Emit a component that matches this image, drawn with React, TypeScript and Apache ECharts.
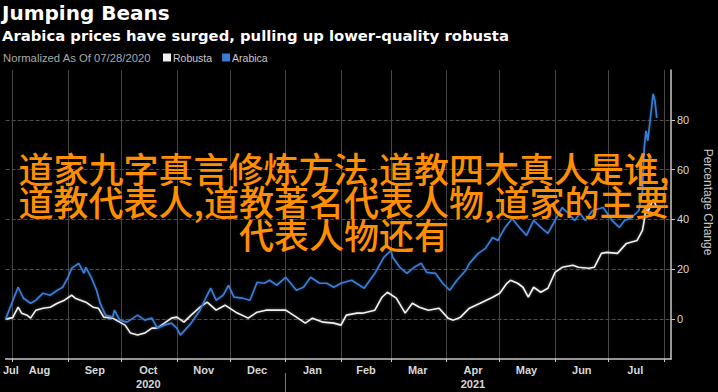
import React, { useEffect, useRef } from "react";
import * as echarts from "echarts";

// ---- data ----
const robustaDates = [
  "2020-07-28", "2020-08-01", "2020-08-04", "2020-08-06", "2020-08-09", "2020-08-11", "2020-08-14",
  "2020-08-18", "2020-08-22", "2020-08-26", "2020-08-30", "2020-09-03", "2020-09-05", "2020-09-08",
  "2020-09-11", "2020-09-15", "2020-09-18", "2020-09-21", "2020-09-26", "2020-09-30", "2020-10-03",
  "2020-10-06", "2020-10-10", "2020-10-14", "2020-10-18", "2020-10-21", "2020-10-25", "2020-10-29",
  "2020-11-01", "2020-11-05", "2020-11-09", "2020-11-14", "2020-11-18", "2020-11-23", "2020-11-28",
  "2020-12-04", "2020-12-11", "2020-12-16", "2020-12-21", "2021-01-01", "2021-01-07", "2021-01-12",
  "2021-01-16", "2021-01-22", "2021-01-28", "2021-02-01", "2021-02-04", "2021-02-10", "2021-02-13",
  "2021-02-20", "2021-02-24", "2021-02-27", "2021-03-04", "2021-03-09", "2021-03-13", "2021-03-17",
  "2021-03-22", "2021-03-28", "2021-04-02", "2021-04-05", "2021-04-09", "2021-04-14", "2021-04-20",
  "2021-04-27", "2021-05-01", "2021-05-05", "2021-05-07", "2021-05-11", "2021-05-14", "2021-05-17",
  "2021-05-20", "2021-05-24", "2021-05-28", "2021-06-01", "2021-06-05", "2021-06-11", "2021-06-14",
  "2021-06-20", "2021-06-23", "2021-06-27", "2021-06-30", "2021-07-06", "2021-07-11", "2021-07-17",
  "2021-07-20", "2021-07-21", "2021-07-22", "2021-07-23", "2021-07-26", "2021-07-28",
];
const robustaValues = [
  0, 0.6, 4.8, 2.4, 1.6, 0.4, 3.6,
  4.4, 4.8, 6.4, 7.6, 9.6, 8.4, 7.6,
  6.8, 4.8, 4.4, 0.8, 0.4, -1.2, -2.4,
  -5.6, -6.4, -5.6, -3.6, -3.6, -1.6, 0.4,
  0.8, -1.2, 1.6, 4.8, 6.8, 3.6, 5.6,
  2.8, 0.4, 2.8, 3.6, 3.6, 0.8, -1.6,
  0.4, -1.2, -1.6, -2.4, 1.6, 2.4, 2.4,
  3.6, 8.8, 10.8, 8.4, 2.4, 6.4, 4.8,
  3.6, 4.4, 0.4, -0.4, 0.8, 4.4, 6.4,
  8.8, 10.4, 14.4, 15.6, 14.4, 12.8, 8.8,
  12.8, 10.8, 12.4, 18.8, 20.8, 21.6, 20.8,
  20.4, 20.8, 26.4, 26.8, 26.4, 30.4, 31.6,
  35.6, 39.6, 44.8, 43, 48, 45,
];

const arabicaDates = [
  "2020-07-28", "2020-08-04", "2020-08-07", "2020-08-11", "2020-08-14", "2020-08-18", "2020-08-22",
  "2020-08-26", "2020-08-29", "2020-09-01", "2020-09-03", "2020-09-07", "2020-09-10", "2020-09-11",
  "2020-09-14", "2020-09-17", "2020-09-19", "2020-09-22", "2020-09-26", "2020-09-27", "2020-09-30",
  "2020-10-04", "2020-10-10", "2020-10-14", "2020-10-18", "2020-10-21", "2020-10-25", "2020-10-29",
  "2020-11-01", "2020-11-03", "2020-11-09", "2020-11-14", "2020-11-18", "2020-11-20", "2020-11-23",
  "2020-11-27", "2020-11-30", "2020-12-03", "2020-12-08", "2020-12-12", "2020-12-16", "2020-12-20",
  "2020-12-23", "2020-12-27", "2021-01-01", "2021-01-07", "2021-01-11", "2021-01-15", "2021-01-20",
  "2021-01-24", "2021-01-28", "2021-02-01", "2021-02-07", "2021-02-14", "2021-02-20", "2021-02-25",
  "2021-03-01", "2021-03-02", "2021-03-06", "2021-03-10", "2021-03-14", "2021-03-18", "2021-03-21",
  "2021-03-26", "2021-03-30", "2021-04-03", "2021-04-07", "2021-04-12", "2021-04-14", "2021-04-19",
  "2021-04-23", "2021-04-27", "2021-04-30", "2021-05-04", "2021-05-08", "2021-05-12", "2021-05-16",
  "2021-05-20", "2021-05-24", "2021-05-28", "2021-06-01", "2021-06-05", "2021-06-08", "2021-06-12",
  "2021-06-15", "2021-06-18", "2021-06-22", "2021-06-28", "2021-07-03", "2021-07-07", "2021-07-10",
  "2021-07-14", "2021-07-18", "2021-07-20", "2021-07-21", "2021-07-22", "2021-07-23", "2021-07-26",
  "2021-07-27", "2021-07-28",
];
const arabicaValues = [
  0, 12.8, 8.4, 6.4, 7.6, 10.4, 9.6,
  11.6, 12.8, 16.8, 20.4, 22.4, 18.4, 20.8,
  16.8, 11.6, 6.4, 1.6, 0.8, 3.6, -0.4,
  -1.2, 1.6, -0.4, 0.4, -3.6, -2.4, -1.6,
  -3.6, -6.4, -1.6, 3.6, 9.6, 12.4, 7.6,
  9.6, 13.6, 8.8, 8.4, 7.6, 14.8, 14.4,
  15.6, 13.6, 16.8, 11.6, 12.8, 16.8, 14.4,
  14.4, 12.8, 14.4, 15.6, 12.4, 18.4, 24.8,
  27.6, 24.8, 20.8, 18.4, 20.8, 22.4, 18.8,
  18.4, 14.4, 11.6, 15.6, 19.6, 22.4, 26.4,
  28.4, 32.8, 31.6, 36.8, 40.4, 36.8, 33.6,
  39.6, 36.8, 34.4, 39.6, 44.8, 42.8, 39.6,
  42.4, 39.6, 43.6, 44.8, 39.6, 36.8, 39.6,
  40.8, 43.6, 51.6, 68.8, 75.6, 71.6, 90.4,
  87.6, 80.8,
];

const monthStarts = [
  "2020-08-01", "2020-09-01", "2020-10-01", "2020-11-01", "2020-12-01", "2021-01-01", "2021-02-01",
  "2021-03-01", "2021-04-01", "2021-05-01", "2021-06-01", "2021-07-01", "2021-08-01",
];
const monthLabelDates = [
  "2020-07-31", "2020-08-16", "2020-09-16", "2020-10-16", "2020-11-16", "2020-12-16", "2021-01-16",
  "2021-02-15", "2021-03-16", "2021-04-16", "2021-05-16", "2021-06-16", "2021-07-16",
];
const monthLabels = [
  "Jul", "Aug", "Sep", "Oct\n2020", "Nov", "Dec", "Jan", "Feb", "Mar", "Apr\n2021", "May", "Jun", "Jul",
];
const yearBreak = ["2021-01-01"];
const yTicks = [0, 20, 40, 60, 80];

const overlayLines = [
  "道家九字真言修炼方法,道教四大真人是谁,",
  "道教代表人,道教著名代表人物,道家的主要",
  "代表人物还有",
];

const ts = (s: string) => {
  const [y, m, d] = s.split("-").map(Number);
  return new Date(y, m - 1, d).getTime();
};

export default function App() {
  const ref = useRef<HTMLDivElement>(null);
  useEffect(() => {
    if (!ref.current) return;
    const chart = echarts.init(ref.current, null, { renderer: "svg" });
    const labelMap = new Map<number, string>();
    monthLabelDates.forEach((d, i) => labelMap.set(ts(d), monthLabels[i]));
    const xMin = ts("2020-07-28");
    const xMax = ts("2021-08-05");
    const labelFont = "Liberation Sans, Arial, sans-serif";

    chart.setOption({
      animation: false,
      backgroundColor: "#000",
      grid: { left: 0, right: 47, top: 70, bottom: 33, containLabel: false },
      legend: {
        data: ["Robusta", "Arabica"],
        left: 163,
        top: 52,
        icon: "rect",
        itemWidth: 8,
        itemHeight: 8,
        itemGap: 10,
        padding: 0,
        textStyle: { color: "#c8c8c8", fontSize: 10.5, fontFamily: labelFont, padding: [0, 0, 0, -3] },
      },
      xAxis: [
        {
          type: "value",
          min: xMin,
          max: xMax,
          axisLine: { show: true, onZero: false, lineStyle: { color: "#c8c8c8", width: 1.5 } },
          axisTick: {
            show: true,
            customValues: monthStarts.map(ts),
            length: 3,
            lineStyle: { color: "#c8c8c8" },
          },
          axisLabel: {
            customValues: monthLabelDates.map(ts),
            formatter: (v: number) => labelMap.get(v) ?? "",
            color: "#d8d8d8",
            fontSize: 11,
            fontWeight: "bold",
            fontFamily: labelFont,
            lineHeight: 14,
            margin: 4,
          },
          splitLine: { show: true, lineStyle: { color: "#464646", width: 1 } },
        },
        {
          type: "value",
          min: xMin,
          max: xMax,
          position: "bottom",
          offset: 14,
          axisLine: { show: false, onZero: false },
          axisTick: {
            show: true,
            customValues: yearBreak.map(ts),
            length: 20,
            lineStyle: { color: "#777", width: 1 },
          },
          axisLabel: { show: false },
          splitLine: { show: false },
        },
      ],
      yAxis: {
        type: "value",
        position: "right",
        min: -16,
        max: 100,
        axisLine: { show: true, lineStyle: { color: "#c8c8c8", width: 1.5 } },
        axisTick: { show: true, customValues: yTicks, length: 4, lineStyle: { color: "#c8c8c8" } },
        axisLabel: {
          customValues: yTicks,
          color: "#d8d8d8",
          fontSize: 11,
          fontFamily: labelFont,
          margin: 6,
        },
        splitLine: { show: true, lineStyle: { color: "#4e4e4e", type: "dashed", width: 1 } },
      },
      series: [
        {
          name: "Robusta",
          type: "line",
          showSymbol: false,
          data: robustaDates.map((d, i) => [ts(d), robustaValues[i]]),
          itemStyle: { color: "#f2f2f2" },
          lineStyle: { color: "#f2f2f2", width: 1.6, shadowBlur: 3, shadowColor: "rgba(255,255,255,0.35)" },
        },
        {
          name: "Arabica",
          type: "line",
          showSymbol: false,
          data: arabicaDates.map((d, i) => [ts(d), arabicaValues[i]]),
          itemStyle: { color: "#3b7dd6" },
          lineStyle: { color: "#3b7dd6", width: 1.7, shadowBlur: 3, shadowColor: "rgba(70,130,210,0.4)" },
        },
      ],
      graphic: [
        {
          type: "text",
          left: 2,
          top: 3,
          style: {
            text: "Jumping Beans",
            fill: "#ffffff",
            font: "bold 20px 'DejaVu Sans', Verdana, sans-serif",
          },
        },
        {
          type: "text",
          left: 2,
          top: 28,
          style: {
            text: "Arabica prices have surged, pulling up lower-quality robusta",
            fill: "#ffffff",
            font: "bold 14.8px 'DejaVu Sans', Verdana, sans-serif",
          },
        },
        {
          type: "text",
          left: 3,
          top: 52,
          style: {
            text: "Normalized As Of 07/28/2020",
            fill: "#a8a8a8",
            font: "11.3px 'Liberation Sans', Arial, sans-serif",
          },
        },
        {
          type: "text",
          x: 708,
          y: 202,
          rotation: -Math.PI / 2,
          style: {
            text: "Percentage Change",
            fill: "#c8c8c8",
            font: "12px 'Liberation Sans', Arial, sans-serif",
            align: "center",
            verticalAlign: "middle",
          },
        },
        {
          type: "text",
          x: 344,
          y: 200,
          z: 100,
          style: {
            text: overlayLines.join("\n"),
            fill: "#FF8E00",
            font: "500 35px 'Noto Sans CJK SC', sans-serif",
            lineHeight: 33,
            align: "center",
            verticalAlign: "middle",
          },
        },
      ],
    });
    return () => chart.dispose();
  }, []);
  return (
    <div
      ref={ref}
      style={{ position: "absolute", left: 0, top: 0, width: 718, height: 392, background: "#000" }}
    />
  );
}
